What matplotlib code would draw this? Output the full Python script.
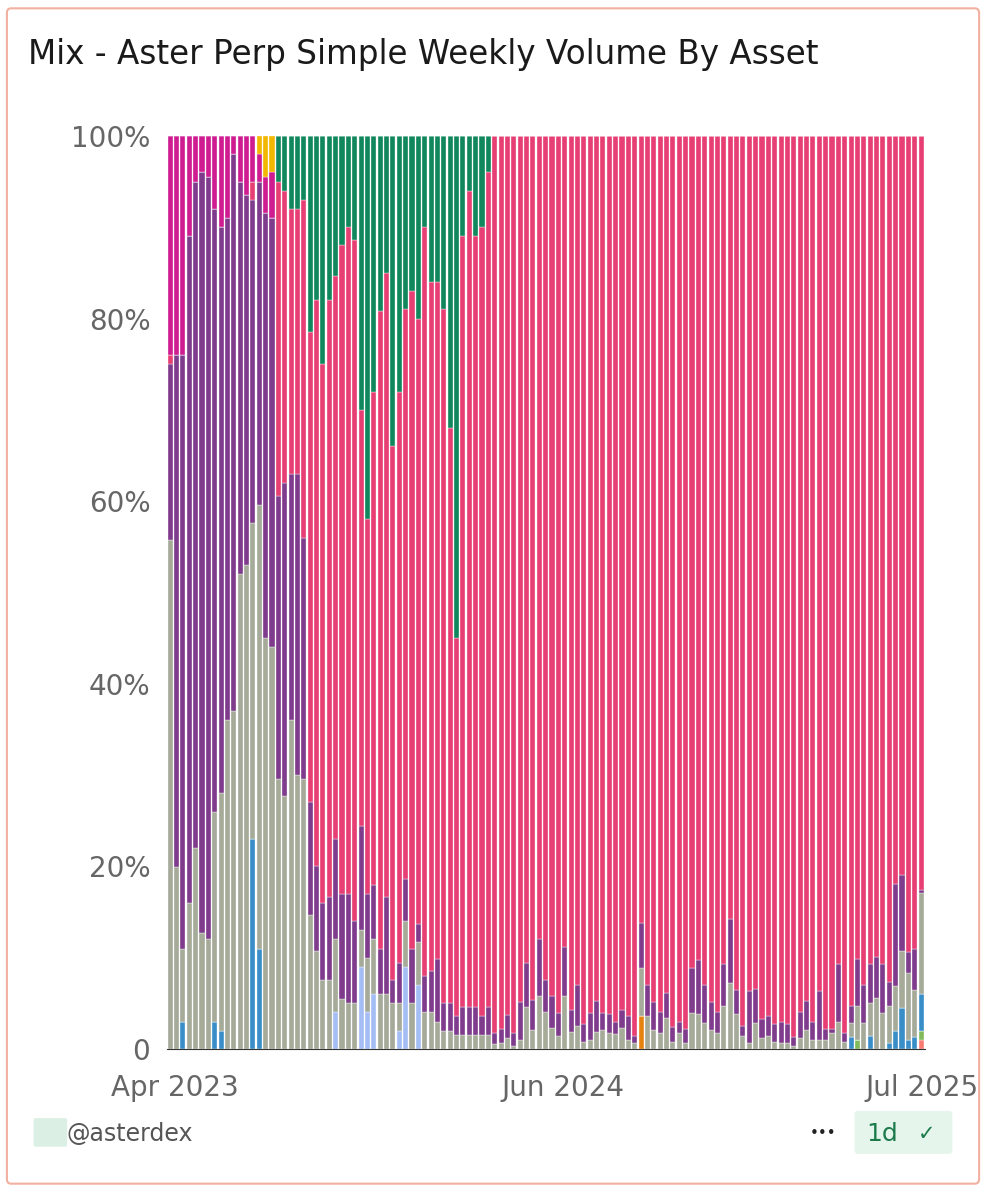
import matplotlib
matplotlib.use("Agg")
import matplotlib.pyplot as plt
from matplotlib.patches import FancyBboxPatch
import numpy as np
import pandas as pd

weeks = pd.date_range("2023-03-27", periods=119, freq="7D")

grey = [55.7,19.9,8,16,22,12.7,12,23,26,36,37,52,53,34.6,48.6,45,44,
        29.6,27.7,36,30,29.6,14.7,10.7,7.5,7.5,8,5.5,5,5,4,6,6,6,6,5,3,5,5,4.7,4,4,3,2,2,1.5,1.5,1.5,1.5,1.5,1.5,
        .5,.7,1.2,.3,1,4.6,2.1,5.8,4.1,2.3,1.4,5.8,1.9,2.5,.8,1,1.9,2.1,1.8,1.6,2.3,1,.6,5.3,3.6,2.1,1.8,3.4,.8,1.8,.7,
        3.9,3.8,2.8,2.1,1.8,4.7,7.2,3.8,1.4,.7,2.8,1.2,1.4,.8,.7,.7,.3,1.2,2.1,1,1,1,1.8,3,.8,1.5,3.7,2.8,3.6,5.6,3.9,4,4.9,6.2,7.3,5.2,11.1]
blue = [0,0,3,0,0,0,0,3,2,0,0,0,0,23,11,0,0] + [0]*34 + \
       [0]*56 + [1.3,0,0,1.4,0,0,.7,2,4.5,1,1.3,4]
lavender = [0]*26 + [4,0,0,0,9,4,6,0,0,0,2,9,0,7,0,0,0,0,0,0,0,0,0,0,0] + [0]*68
purple = [19.3,56.1,65,73,73,83.3,83.5,66,62,55,61,43,40.5,35.4,35.4,46.5,47,
          31,34.3,27,33,26.4,12.3,9.3,8.5,9.1,11,11.5,12,9,11.4,7,6,5,10.6,2.5,4.4,4.6,6,2,4,4.5,6.8,3,3,2.1,3.1,3.1,3.1,2.1,3.1,
          1.3,1.5,2.5,1.5,4.1,4.8,3.3,6.2,3.5,3.5,2.5,5.4,2.4,4.5,1.9,2.9,3.3,1.8,2,1.4,2,2.6,.8,4.9,3.4,3,2.2,2.7,1.6,1.2,1.5,
          5,5.9,4.2,3,2.2,4.6,7,2.7,1.1,5.7,3.8,2.1,2.2,1.9,2.2,2,1,2.9,3.1,1.9,5.4,1.2,.4,6.3,1,1.9,5.1,4.2,4.3,4.5,5.4,2.6,11.2,8.4,2.3,4.4,.3]
green = [0]*17 + [5,6,8,8,7,21.5,18,25,18,15.3,12,10,11.4,30,42,28,19.2,15,34,28,19,17,20,10,16,16,19,32,55,11,6,11,10,4] + [0]*68
magenta = [24,24,24,11,5,4,4.5,8,10,9,2,5,6.5,5,3,4,5] + [0]*102
yellow_top = [0]*13 + [0,2,4.5,4] + [0]*102
orange = [0]*74 + [3.6] + [0]*44
lightgreen = [0]*108 + [1] + [0]*9 + [1]
coral = [0]*118 + [1]

series = [("coral", coral, "#f97b72"), ("lightgreen", lightgreen, "#80ba5a"),
          ("orange", orange, "#e68310"), ("blue", blue, "#3a8ec8"),
          ("lavender", lavender, "#a5bdf5"), ("grey", grey, "#a5aa99"),
          ("purple", purple, "#7f3c8d")]

fig = plt.figure(figsize=(9.88, 11.92), dpi=100)
ax = fig.add_axes([0.169, 0.12, 0.767, 0.766])
W = 5.6
bottom = np.zeros(len(weeks))
for name, vals, col in series:
    v = np.array(vals, float)
    ax.bar(weeks, v, width=W, bottom=bottom, color=col, edgecolor="white", linewidth=0.25)
    bottom += v
top_parts = [("green", green, "#11875d"), ("magenta", magenta, "#cf1c90"), ("yellow", yellow_top, "#f2b701")]
red = 100 - bottom - sum(np.array(v, float) for _, v, _ in top_parts)
ax.bar(weeks, red, width=W, bottom=bottom, color="#e73f74", edgecolor="white", linewidth=0.25)
bottom += red
for name, vals, col in top_parts:
    v = np.array(vals, float)
    ax.bar(weeks, v, width=W, bottom=bottom, color=col, edgecolor="white", linewidth=0.25)
    bottom += v

ax.set_ylim(0, 100)
ax.set_xlim(weeks[0] - pd.Timedelta(days=3.5), weeks[-1] + pd.Timedelta(days=4))
ax.set_yticks([0, 20, 40, 60, 80, 100])
ax.set_yticklabels(["0", "20%", "40%", "60%", "80%", "100%"])
ticks = pd.to_datetime(["2023-04-01", "2024-06-01", "2025-07-01"])
ax.set_xticks(ticks)
ax.set_xticklabels(["Apr 2023", "Jun 2024", "Jul 2025"])
ax.tick_params(length=0, labelsize=20, labelcolor="#666666")
ax.tick_params(axis="x", pad=18)
ax.tick_params(axis="y", pad=12)
for s in ["top", "right", "left"]:
    ax.spines[s].set_visible(False)
ax.spines["bottom"].set_color("#333333")

fig.text(0.028, 0.954, "Mix - Aster Perp Simple Weekly Volume By Asset", fontsize=23.5,
         color="#1a1a1a", va="center", ha="left")
fig.text(0.067, 0.049, "@asterdex", fontsize=17, color="#555555", va="center")
fig.patches.append(FancyBboxPatch((0.036, 0.040), 0.03, 0.02, boxstyle="round,pad=0.002",
                                  transform=fig.transFigure, fc="#dcefe4", ec="none"))
fig.text(0.833, 0.049, "•••", fontsize=11, color="#222222", va="center", ha="center")
fig.patches.append(FancyBboxPatch((0.868, 0.035), 0.093, 0.03, boxstyle="round,pad=0.003",
                                  transform=fig.transFigure, fc="#e6f5ec", ec="none"))
fig.text(0.893, 0.049, "1d", fontsize=18, color="#1b7a4a", va="center", ha="center")
fig.text(0.938, 0.049, "✓", fontsize=15, color="#1b7a4a", va="center", ha="center")
fig.patches.append(FancyBboxPatch((0.007, 0.007), 0.984, 0.986, boxstyle="round,pad=0,rounding_size=0.004",
                                  transform=fig.transFigure, fc="none", ec="#f2b0a0", lw=1.5))
fig.savefig("out.png", dpi=100)
